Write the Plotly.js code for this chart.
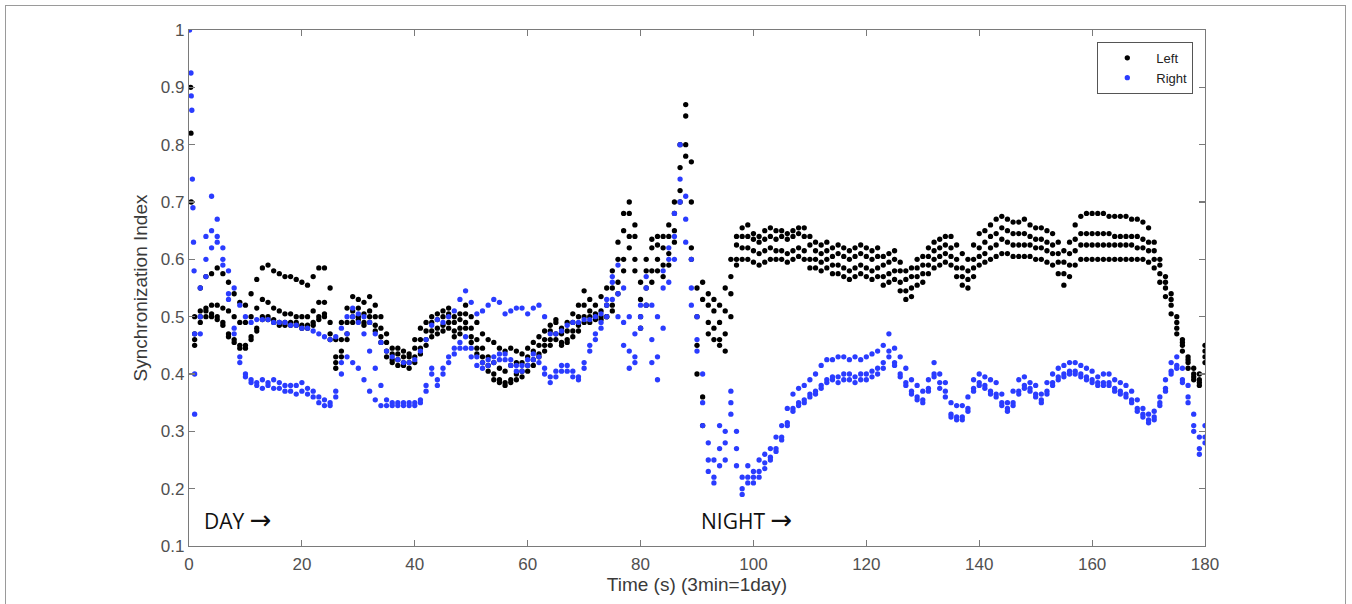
<!DOCTYPE html>
<html>
<head>
<meta charset="utf-8">
<script src="https://cdn.plot.ly/plotly-3.0.1.min.js"></script>
<style>
html,body{margin:0;padding:0;background:#fff;}
#frame{position:absolute;left:5px;top:5px;width:1341px;height:640px;border:1px solid #9a9a9a;box-sizing:border-box;pointer-events:none;}
#chart{position:absolute;left:0;top:0;width:1352px;height:604px;}
</style>
</head>
<body>
<div id="chart"></div>
<div id="frame"></div>
<script>
// time in seconds (one sample per second, t = 1..180)
const time = Array.from({length:180},(_,i)=>i+1);

// initial transient samples near t = 0
const leftT0  = [0.3, 0.35, 0.4];
const leftV0  = [0.90, 0.82, 0.70];
const rightT0 = [0.1, 0.35, 0.4, 0.5, 0.6, 0.7, 0.8, 0.9];
const rightV0 = [1.0, 0.925, 0.885, 0.86, 0.74, 0.69, 0.63, 0.58];

// Left hemisphere (black) – four traces
const left1 = [
 .50,.55,.57,.575,.585,.575,.56,.54,.525,.52,
 .54,.565,.585,.59,.58,.575,.57,.57,.565,.56,
 .555,.57,.585,.585,.55,.46,.49,.515,.535,.53,
 .525,.535,.52,.50,.47,.445,.445,.44,.435,.46,
 .48,.49,.50,.505,.51,.515,.50,.505,.52,.50,
 .49,.47,.46,.455,.445,.44,.445,.44,.435,.445,
 .455,.465,.475,.485,.495,.48,.49,.505,.52,.545,
 .53,.52,.535,.55,.58,.63,.68,.70,.66,.56,
 .60,.635,.64,.64,.66,.70,.80,.87,.77,.55,
 .56,.54,.53,.52,.55,.60,.64,.655,.66,.645,
 .64,.65,.655,.65,.65,.645,.65,.655,.655,.64,
 .63,.625,.63,.62,.625,.62,.615,.62,.625,.62,
 .615,.62,.605,.61,.615,.595,.58,.585,.60,.605,
 .62,.63,.635,.64,.64,.625,.61,.60,.625,.645,
 .65,.66,.67,.675,.67,.665,.665,.67,.66,.655,
 .655,.65,.645,.63,.615,.63,.66,.675,.68,.68,
 .68,.68,.675,.675,.675,.675,.67,.67,.665,.655,
 .63,.60,.57,.54,.50,.46,.43,.41,.40,.45];
const left2 = [
 .47,.51,.515,.52,.52,.515,.51,.50,.49,.49,
 .50,.515,.53,.525,.515,.51,.505,.505,.50,.50,
 .50,.51,.525,.525,.49,.43,.46,.49,.51,.515,
 .505,.51,.50,.48,.455,.435,.435,.43,.43,.445,
 .46,.475,.49,.495,.50,.505,.49,.495,.505,.48,
 .46,.445,.43,.42,.41,.405,.415,.42,.42,.43,
 .44,.45,.46,.475,.49,.47,.475,.49,.50,.52,
 .51,.505,.51,.52,.55,.60,.65,.68,.64,.53,
 .58,.62,.625,.62,.64,.68,.76,.85,.70,.50,
 .53,.52,.51,.49,.51,.57,.625,.64,.64,.635,
 .63,.635,.64,.635,.64,.635,.64,.645,.64,.625,
 .615,.61,.615,.605,.61,.605,.60,.605,.61,.605,
 .60,.605,.59,.595,.60,.58,.565,.57,.585,.59,
 .605,.615,.62,.625,.62,.60,.585,.58,.60,.62,
 .63,.64,.645,.655,.65,.645,.645,.645,.64,.635,
 .635,.63,.625,.61,.595,.61,.635,.645,.645,.645,
 .645,.645,.645,.64,.64,.64,.64,.64,.635,.63,
 .615,.59,.56,.53,.49,.455,.425,.40,.39,.44];
const left3 = [
 .46,.50,.51,.505,.50,.49,.47,.46,.45,.45,
 .465,.48,.50,.50,.495,.49,.49,.49,.49,.485,
 .485,.49,.50,.505,.47,.42,.44,.47,.50,.50,
 .49,.50,.485,.465,.44,.425,.425,.42,.42,.43,
 .445,.46,.475,.48,.485,.49,.475,.48,.49,.465,
 .445,.43,.415,.40,.39,.385,.39,.40,.405,.415,
 .425,.435,.45,.46,.47,.455,.46,.475,.485,.50,
 .50,.50,.50,.50,.52,.56,.60,.64,.60,.50,
 .55,.58,.60,.59,.61,.65,.72,.80,.62,.45,
 .36,.49,.48,.46,.47,.54,.60,.62,.62,.615,
 .61,.615,.62,.615,.615,.61,.615,.62,.615,.60,
 .60,.595,.60,.59,.59,.585,.58,.585,.59,.585,
 .58,.585,.57,.575,.58,.56,.545,.55,.57,.575,
 .59,.60,.605,.61,.605,.585,.57,.565,.585,.605,
 .61,.62,.625,.635,.63,.625,.625,.625,.625,.62,
 .62,.615,.61,.595,.575,.59,.615,.625,.625,.625,
 .625,.625,.625,.625,.625,.625,.625,.62,.62,.615,
 .60,.575,.55,.52,.48,.45,.42,.395,.385,.43];
const left4 = [
 .45,.49,.50,.50,.495,.485,.465,.455,.445,.445,
 .46,.475,.495,.495,.49,.485,.485,.485,.485,.48,
 .48,.485,.495,.50,.46,.41,.43,.46,.49,.495,
 .485,.49,.475,.455,.43,.42,.415,.415,.41,.42,
 .435,.45,.465,.47,.475,.48,.465,.47,.48,.455,
 .435,.42,.405,.39,.385,.38,.385,.39,.395,.405,
 .415,.43,.44,.45,.46,.45,.455,.465,.475,.49,
 .49,.495,.495,.50,.51,.54,.58,.62,.58,.48,
 .52,.56,.58,.57,.59,.63,.70,.78,.60,.40,
 .31,.47,.46,.45,.44,.50,.59,.60,.60,.595,
 .59,.595,.60,.60,.60,.595,.60,.605,.60,.585,
 .585,.58,.585,.575,.575,.57,.565,.57,.575,.57,
 .565,.57,.555,.56,.565,.545,.53,.535,.555,.56,
 .575,.585,.59,.595,.59,.57,.555,.55,.57,.59,
 .595,.60,.605,.61,.61,.605,.605,.605,.605,.60,
 .60,.595,.59,.575,.555,.57,.59,.60,.60,.60,
 .60,.60,.60,.60,.60,.60,.60,.60,.60,.595,
 .585,.56,.535,.505,.47,.44,.41,.39,.38,.42];

// Right hemisphere (blue) – three traces
const right1 = [
 .47,.55,.64,.71,.67,.62,.58,.55,.52,.50,
 .49,.495,.495,.495,.49,.49,.49,.485,.485,.48,
 .48,.475,.47,.465,.46,.465,.48,.50,.515,.505,
 .50,.49,.47,.455,.44,.43,.425,.42,.42,.425,
 .44,.46,.485,.495,.49,.50,.51,.53,.545,.525,
 .505,.51,.52,.53,.525,.505,.51,.515,.515,.505,
 .515,.52,.50,.47,.47,.475,.485,.49,.49,.495,
 .495,.50,.505,.52,.57,.59,.55,.50,.47,.52,
 .57,.52,.50,.58,.62,.68,.80,.71,.60,.50,
 .40,.28,.25,.31,.30,.37,.30,.22,.24,.23,
 .25,.26,.27,.29,.31,.34,.365,.375,.38,.39,
 .40,.415,.425,.425,.43,.43,.425,.43,.425,.43,
 .435,.44,.45,.47,.445,.43,.41,.39,.38,.37,
 .39,.42,.40,.385,.35,.345,.345,.36,.39,.40,
 .395,.39,.385,.365,.35,.37,.39,.395,.385,.38,
 .365,.385,.40,.41,.415,.42,.42,.415,.41,.405,
 .395,.40,.40,.39,.385,.38,.37,.355,.34,.33,
 .335,.36,.39,.42,.43,.41,.38,.33,.29,.31];
const right2 = [
 .40,.50,.60,.65,.64,.60,.54,.48,.43,.40,
 .39,.385,.39,.385,.39,.385,.38,.38,.38,.385,
 .375,.37,.36,.355,.35,.37,.42,.47,.50,.49,
 .47,.44,.41,.38,.355,.35,.35,.35,.35,.35,
 .355,.38,.41,.39,.41,.43,.445,.455,.465,.445,
 .43,.42,.425,.43,.435,.435,.425,.415,.415,.425,
 .435,.43,.41,.395,.405,.415,.415,.405,.395,.42,
 .45,.47,.49,.53,.56,.54,.49,.44,.42,.50,
 .55,.46,.43,.55,.60,.64,.74,.67,.55,.46,
 .35,.25,.21,.27,.25,.33,.27,.20,.22,.22,
 .23,.245,.255,.27,.29,.315,.34,.35,.355,.365,
 .37,.38,.39,.395,.395,.40,.40,.395,.40,.40,
 .405,.41,.42,.44,.42,.40,.385,.37,.36,.355,
 .375,.40,.385,.37,.33,.325,.325,.34,.375,.385,
 .38,.37,.365,.35,.34,.35,.37,.38,.375,.365,
 .355,.37,.385,.395,.40,.405,.405,.40,.395,.39,
 .385,.385,.385,.375,.37,.365,.355,.34,.33,.32,
 .325,.35,.375,.405,.415,.39,.36,.31,.27,.29];
const right3 = [
 .33,.47,.57,.62,.63,.59,.53,.47,.42,.395,
 .385,.38,.375,.38,.375,.375,.37,.37,.365,.37,
 .365,.36,.35,.345,.345,.36,.40,.43,.42,.41,
 .39,.37,.355,.345,.345,.345,.345,.345,.345,.345,
 .35,.37,.40,.38,.40,.42,.435,.445,.445,.43,
 .415,.41,.415,.42,.425,.425,.415,.405,.405,.415,
 .425,.42,.40,.385,.395,.405,.405,.395,.39,.41,
 .44,.46,.48,.50,.53,.50,.45,.41,.43,.48,
 .52,.42,.39,.48,.56,.60,.70,.63,.52,.44,
 .31,.23,.22,.24,.28,.35,.24,.19,.21,.21,
 .22,.235,.25,.265,.285,.31,.335,.345,.35,.36,
 .365,.375,.385,.39,.385,.39,.39,.385,.39,.39,
 .395,.40,.41,.43,.415,.395,.38,.365,.355,.35,
 .37,.395,.375,.36,.325,.32,.32,.335,.37,.38,
 .375,.365,.36,.345,.335,.345,.365,.375,.37,.36,
 .35,.365,.38,.39,.395,.40,.40,.395,.39,.385,
 .38,.38,.38,.37,.365,.36,.35,.335,.325,.315,
 .32,.345,.37,.40,.41,.385,.35,.30,.26,.28];

const xTicks = [0,20,40,60,80,100,120,140,160,180];
const yTicks = [0.1,0.2,0.3,0.4,0.5,0.6,0.7,0.8,0.9,1];
const yTickText = ['0.1','0.2','0.3','0.4','0.5','0.6','0.7','0.8','0.9','1'];

const BLACK = '#000000';
const BLUE = '#2a3cff';
const MS = 5.3;

function tr(x, y, color, name, show){
  return {x:x, y:y, type:'scatter', mode:'markers', name:name,
    legendgroup:name, showlegend:show, hoverinfo:'skip',
    marker:{color:color, size:MS, line:{width:0}}};
}

const data = [
  tr(leftT0, leftV0, BLACK, 'Left', true),
  tr(time, left1, BLACK, 'Left', false),
  tr(time, left2, BLACK, 'Left', false),
  tr(time, left3, BLACK, 'Left', false),
  tr(time, left4, BLACK, 'Left', false),
  tr(rightT0, rightV0, BLUE, 'Right', true),
  tr(time, right1, BLUE, 'Right', false),
  tr(time, right2, BLUE, 'Right', false),
  tr(time, right3, BLUE, 'Right', false)
];

const FONT = 'Liberation Sans, Arial, sans-serif';
const axisCommon = {
  showgrid:false, zeroline:false, showline:true, linecolor:'#7a7a7a', linewidth:1.2,
  mirror:'ticks', ticks:'inside', ticklen:6, tickcolor:'#7a7a7a', tickwidth:1.2,
  tickfont:{family:FONT, size:17, color:'#505050'}
};

const layout = {
  width:1352, height:604,
  margin:{l:189, r:147, t:30, b:58},
  paper_bgcolor:'#ffffff', plot_bgcolor:'#ffffff',
  showlegend:true,
  legend:{x:0.894, y:0.977, xanchor:'left', yanchor:'top',
    bgcolor:'#ffffff', bordercolor:'#555555', borderwidth:1,
    font:{family:FONT, size:13, color:'#222'},
    itemsizing:'trace', itemwidth:48, tracegroupgap:0},
  xaxis:Object.assign({}, axisCommon, {
    range:[0,180], tickvals:xTicks, ticktext:xTicks.map(String), ticklabelstandoff:2,
    title:{text:'Time (s) (3min=1day)', standoff:4,
      font:{family:FONT, size:19, color:'#3a3a3a'}}
  }),
  yaxis:Object.assign({}, axisCommon, {
    range:[0.1,1], tickvals:yTicks, ticktext:yTickText,
    title:{text:'Synchronization Index', standoff:8,
      font:{family:FONT, size:19, color:'#3a3a3a'}}
  }),
  annotations:[
    {text:'DAY <span style="font-family:DejaVu Sans;font-size:26px">\u2192</span>', xref:'paper', yref:'paper', x:0.0125, y:0.05, xanchor:'left', yanchor:'middle',
      showarrow:false, font:{family:'Open Sans, Noto Sans, sans-serif', size:21, color:'#111'}},
    {text:'NIGHT <span style="font-family:DejaVu Sans;font-size:26px">\u2192</span>', xref:'paper', yref:'paper', x:0.502, y:0.05, xanchor:'left', yanchor:'middle',
      showarrow:false, font:{family:'Open Sans, Noto Sans, sans-serif', size:21, color:'#111'}}
  ]
};

Plotly.newPlot('chart', data, layout, {displayModeBar:false, staticPlot:true});
</script>
</body>
</html>
